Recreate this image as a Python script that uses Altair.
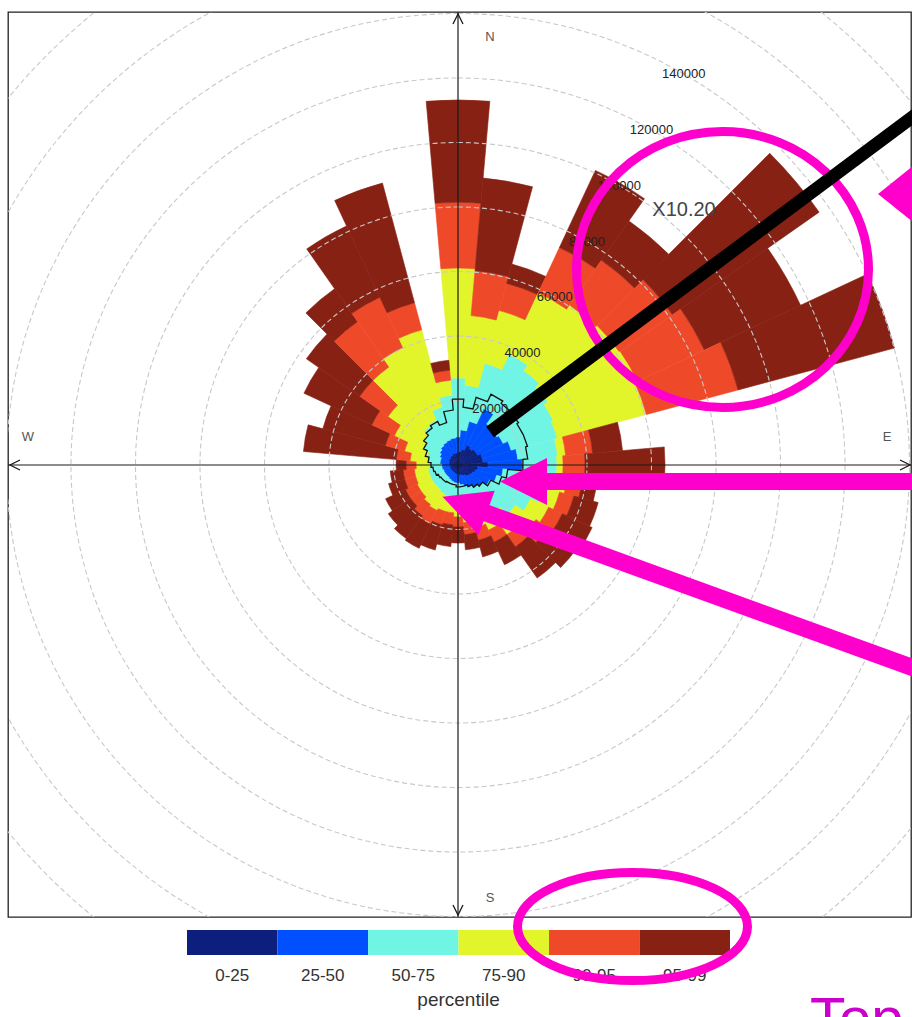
import math
import altair as alt
import pandas as pd

# ---------------------------------------------------------------------------
# Percentile rose: concentration percentiles by wind direction (10-degree bins)
# ---------------------------------------------------------------------------
directions = list(range(0, 360, 10))

p25 = [3700, 4300, 5000, 6800, 6200, 6800, 6800, 7800, 7800, 9300,
       6200, 5600, 5000, 4700, 4300, 3700, 3400, 3100, 2800, 2800,
       2800, 2500, 2500, 2500, 2500, 2500, 2500, 2500, 2800, 2800,
       3100, 3100, 3400, 3400, 3700, 3700]
p50 = [8700, 10900, 14000, 19200, 15500, 14900, 15500, 17100, 18600, 20200,
       14000, 12400, 10900, 9300, 8700, 7800, 6800, 6200, 5600, 5600,
       5300, 5000, 4700, 4700, 4700, 4700, 5000, 5000, 5600, 5600,
       6200, 6800, 7400, 7800, 8100, 8400]
p75 = [27000, 24800, 32600, 37800, 35700, 34100, 32600, 31900, 31000, 30700,
       29500, 27900, 24800, 21700, 18600, 15500, 14000, 12400, 10900, 10900,
       10200, 9900, 9300, 9300, 9300, 9300, 9300, 8700, 9300, 9900,
       11800, 13000, 14900, 15500, 18600, 21700]
p90 = [61100, 46500, 49600, 58900, 60500, 61100, 61400, 60500, 33500, 32600,
       34100, 32600, 31000, 29500, 26400, 22300, 20200, 18000, 16100, 14900,
       14900, 15500, 14900, 14000, 14000, 13600, 13600, 13000, 14900, 17100,
       21700, 26400, 37200, 40300, 43400, 26400]
p95 = [81500, 60500, 58300, 74400, 77500, 81200, 84300, 89900, 41900, 39400,
       38800, 37200, 35700, 34100, 31000, 26400, 24200, 21700, 19200, 18600,
       19200, 20200, 19200, 18000, 18000, 17100, 17100, 16100, 19200, 23300,
       29500, 37200, 54300, 57400, 52100, 29500]
p99 = [113200, 89300, 64500, 100800, 92400, 136700, 117200, 140100, 51200, 64200,
       43400, 45000, 45900, 45000, 42800, 34100, 29500, 26400, 24200, 25400,
       27300, 28500, 27900, 26400, 24800, 22300, 21100, 19200, 48100, 43400,
       52700, 57400, 66700, 81800, 90500, 32600]
mean_conc = [20500, 18000, 21700, 24200, 23300, 22900, 22300, 22300, 21700, 20200,
             15500, 14000, 11200, 9300, 8400, 7400, 6800, 6800, 6800, 6200,
             6200, 6200, 6500, 6500, 6800, 7400, 7800, 8400, 9300, 10500,
             11800, 13000, 14000, 14900, 13600, 17100]

percentile_bands = ["0-25", "25-50", "50-75", "75-90", "90-95", "95-99"]
band_colours = ["#0d1f7c", "#0050ff", "#70f4e4", "#e2f52a", "#ee4a2a", "#862114"]

grid_levels = [20000, 40000, 60000, 80000, 100000, 120000, 140000]
outer_rings = [160000, 180000, 200000]
compass_labels = ["N", "E", "S", "W"]

# ---------------------------------------------------------------------------
# Layout (pixels)
# ---------------------------------------------------------------------------
W, H = 903, 905
PAD = {"left": 8, "top": 12, "right": 1, "bottom": 100}
CX, CY = 450, 453           # rose origin inside the panel
R_MAX, R_PX = 140000, 451.5
K = R_PX / R_MAX            # px per concentration unit

x_scale = alt.Scale(domain=[-CX / K, (W - CX) / K], nice=False, zero=False)
y_scale = alt.Scale(domain=[-(H - CY) / K, CY / K], nice=False, zero=False)
r_scale = alt.Scale(type="linear", domain=[0, R_MAX], range=[0, R_PX], zero=True, nice=False)
theta_scale = alt.Scale(domain=[0, 360], range=[0, 2 * math.pi])
colour_scale = alt.Scale(domain=percentile_bands, range=band_colours)


def px_x(px):
    """page pixel -> x data units"""
    return (px - PAD["left"] - CX) / K


def px_y(py):
    """page pixel -> y data units"""
    return (PAD["top"] + CY - py) / K


X0 = alt.X(datum=0, type="quantitative", scale=x_scale, axis=None)
Y0 = alt.Y(datum=0, type="quantitative", scale=y_scale, axis=None)


def xy(xf="x", yf="y"):
    return dict(x=alt.X(f"{xf}:Q", scale=x_scale, axis=None),
                y=alt.Y(f"{yf}:Q", scale=y_scale, axis=None))


# ---------------------------------------------------------------------------
# Rose sectors
# ---------------------------------------------------------------------------
pct = [p25, p50, p75, p90, p95, p99]
rows = []
for i, d in enumerate(directions):
    lo = 0
    for b, band in enumerate(percentile_bands):
        hi = pct[b][i]
        rows.append({"dir": d, "t0": d - 5, "t1": d + 5, "lo": lo, "hi": hi, "band": band})
        lo = hi
rose_df = pd.DataFrame(rows)

rose = alt.Chart(rose_df).mark_arc(strokeWidth=0.6).encode(
    x=X0, y=Y0,
    theta=alt.Theta("t0:Q", scale=theta_scale),
    theta2=alt.Theta2("t1"),
    radius=alt.Radius("hi:Q", scale=r_scale),
    radius2=alt.Radius2("lo"),
    color=alt.Color("band:N", scale=colour_scale, legend=None),
    stroke=alt.Stroke("band:N", scale=colour_scale, legend=None),
)

# dashed range rings
rings_df = pd.DataFrame({"level": grid_levels + outer_rings})
rings_df["t0"] = 0
rings_df["t1"] = 360
rings = alt.Chart(rings_df).mark_arc(
    fillOpacity=0, stroke="#c8c8c8", strokeWidth=1.1, strokeDash=[5, 3], clip=True
).encode(
    x=X0, y=Y0,
    theta=alt.Theta("t0:Q", scale=theta_scale),
    theta2=alt.Theta2("t1"),
    radius=alt.Radius("level:Q", scale=r_scale),
)

# mean concentration outline (stepped)
mrows = []
for i, d in enumerate(directions):
    for t in (d - 5, d + 5):
        mrows.append({"t": t, "r": mean_conc[i]})
mrows.append(dict(mrows[0]))
mean_df = pd.DataFrame(mrows)
mean_df["k"] = range(len(mean_df))
mean_df["x"] = mean_df["r"] * [math.sin(math.radians(t)) for t in mean_df["t"]]
mean_df["y"] = mean_df["r"] * [math.cos(math.radians(t)) for t in mean_df["t"]]
mean_line = alt.Chart(mean_df).mark_line(color="#111111", strokeWidth=1.3).encode(
    order="k:Q", **xy()
)

# compass axes with open arrowheads
xlo, xhi = x_scale.domain
ylo, yhi = y_scale.domain
axes_df = pd.DataFrame({"x": [0, xlo], "x2": [0, xhi], "y": [ylo, 0], "y2": [yhi, 0]})
axes = alt.Chart(axes_df).mark_rule(color="#1a1a1a", strokeWidth=1.2).encode(
    x2="x2:Q", y2="y2:Q", **xy()
)
heads_df = pd.DataFrame({
    "x": [0, px_x(910), 0, px_x(10)],
    "y": [px_y(14), 0, px_y(915), 0],
    "ang": [0, 90, 180, 270],
})
heads = alt.Chart(heads_df).mark_point(
    shape="M-0.5,1L0,0L0.5,1", size=400, filled=False, stroke="#1a1a1a",
    strokeWidth=1.3, opacity=1
).encode(angle=alt.Angle("ang:Q", scale=None), **xy())

compass_df = pd.DataFrame({
    "label": compass_labels,
    "x": [px_x(490), px_x(887), px_x(490), px_x(28)],
    "y": [px_y(37), px_y(437), px_y(898), px_y(437)],
})
compass = alt.Chart(compass_df).mark_text(
    fontSize=13, color="#555555", font="Liberation Sans"
).encode(text="label:N", **xy())

# ring labels along the 30-degree radial
lab_df = pd.DataFrame({"level": grid_levels})
lab_df["x"] = lab_df["level"] * math.sin(math.radians(30))
lab_df["y"] = lab_df["level"] * math.cos(math.radians(30))
lab_df["text"] = lab_df["level"].astype(str)
ring_labels = alt.Chart(lab_df).mark_text(
    fontSize=13, color="#222222", font="Liberation Sans"
).encode(text="text:N", **xy())

# ---------------------------------------------------------------------------
# Colour key
# ---------------------------------------------------------------------------
KEY_X0, KEY_W, KEY_TOP, KEY_BOT = 187, 90.5, 930, 955
key_df = pd.DataFrame({"band": percentile_bands})
key_df["x"] = [px_x(KEY_X0 + i * KEY_W) for i in range(len(percentile_bands))]
key_df["x2"] = [px_x(KEY_X0 + (i + 1) * KEY_W) for i in range(len(percentile_bands))]
key_df["xm"] = (key_df["x"] + key_df["x2"]) / 2
key_df["y"] = px_y(KEY_TOP)
key_df["y2"] = px_y(KEY_BOT)
key_df["yl"] = px_y(976)
key_rects = alt.Chart(key_df).mark_rect().encode(
    x2="x2:Q", y2="y2:Q",
    color=alt.Color("band:N", scale=colour_scale, legend=None),
    **xy()
)
key_labels = alt.Chart(key_df).mark_text(
    fontSize=17, color="#333333", font="Liberation Sans"
).encode(text="band:N", **xy("xm", "yl"))
key_title = alt.Chart(pd.DataFrame({
    "t": ["percentile"], "x": [px_x(KEY_X0 + 3 * KEY_W)], "y": [px_y(1000)]
})).mark_text(fontSize=19, color="#333333", font="Liberation Sans").encode(
    text="t:N", **xy()
)

# ---------------------------------------------------------------------------
# Highlight annotations
# ---------------------------------------------------------------------------
MAGENTA = "#ff00cc"
KAPPA = 0.5523


def ellipse_path(e):
    k, ek = KAPPA, e * KAPPA
    return (f"M1,0C1,{ek} {k},{e} 0,{e}C{-k},{e} -1,{ek} -1,0"
            f"C-1,{-ek} {-k},{-e} 0,{-e}C{k},{-e} 1,{-ek} 1,0Z")


ring_a = alt.Chart(pd.DataFrame({"x": [px_x(722.5)], "y": [px_y(269.5)]})).mark_point(
    shape=ellipse_path(0.945), size=(2 * 146) ** 2, filled=False,
    stroke=MAGENTA, strokeWidth=9, opacity=1
).encode(**xy())
ring_b = alt.Chart(pd.DataFrame({"x": [px_x(632.5)], "y": [px_y(926.5)]})).mark_point(
    shape=ellipse_path(0.47), size=(2 * 115) ** 2, filled=False,
    stroke=MAGENTA, strokeWidth=9, opacity=1
).encode(**xy())

pointer = alt.Chart(pd.DataFrame({
    "x": [px_x(490)], "y": [px_y(432)], "x2": [px_x(930)], "y2": [px_y(104)]
})).mark_rule(color="#000000", strokeWidth=13, strokeCap="butt").encode(
    x2="x2:Q", y2="y2:Q", **xy()
)

shafts = alt.Chart(pd.DataFrame({
    "x": [px_x(540), px_x(478)], "y": [px_y(481.5), px_y(510)],
    "x2": [px_x(980), px_x(980)], "y2": [px_y(481.5), px_y(692)],
})).mark_rule(color=MAGENTA, strokeWidth=17, strokeCap="butt").encode(
    x2="x2:Q", y2="y2:Q", **xy()
)
arrow_heads = alt.Chart(pd.DataFrame({
    "x": [px_x(523.5), px_x(464.6)], "y": [px_y(481.5), px_y(504.9)], "ang": [0, 20]
})).mark_point(
    shape="M-1,0L1,-1L1,1Z", size=47 ** 2, filled=True, color=MAGENTA, opacity=1
).encode(angle=alt.Angle("ang:Q", scale=None), **xy())
side_head = alt.Chart(pd.DataFrame({"x": [px_x(898)], "y": [px_y(194)]})).mark_point(
    shape="M-1,0L1,-1.6L1,1.6Z", size=40 ** 2, filled=True, color=MAGENTA, opacity=1
).encode(**xy())

marker_text = alt.Chart(pd.DataFrame({
    "t": ["X10.20"], "x": [px_x(684)], "y": [px_y(210)]
})).mark_text(fontSize=20, color="#444444", font="Liberation Sans").encode(
    text="t:N", **xy()
)
top_text = alt.Chart(pd.DataFrame({
    "t": ["Top"], "x": [px_x(810)], "y": [px_y(1038)]
})).mark_text(
    fontSize=58, color="#cc00cc", font="Liberation Sans", align="left",
    baseline="alphabetic"
).encode(text="t:N", **xy())

chart = alt.layer(
    rose, rings, mean_line, axes, heads, compass, ring_labels,
    key_rects, key_labels, key_title,
    ring_a, ring_b, pointer, shafts, arrow_heads, side_head,
    marker_text, top_text,
).properties(
    width=W, height=H, padding=PAD, background="white",
    autosize=alt.AutoSizeParams(type="none"),
).configure_view(stroke="#222222", strokeWidth=1.3)

chart.save("out.html", embed_options={"renderer": "svg", "actions": False})
